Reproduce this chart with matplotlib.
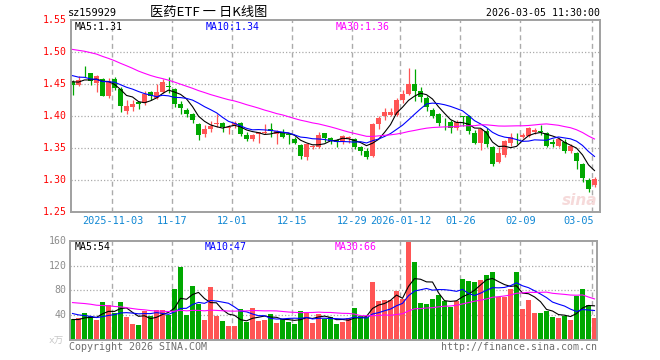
"""
Daily K-line chart for sz159929 (医药ETF), Sina finance style
"""
import numpy as np
import pandas as pd
import matplotlib

matplotlib.use("Agg")
import matplotlib.pyplot as plt

# ---- data ----
opens = [1.454, 1.449, 1.468, 1.467, 1.4525, 1.459, 1.432, 1.459, 1.443, 1.409,
         1.415, 1.422, 1.421, 1.438, 1.428, 1.4385, 1.448, 1.442, 1.419, 1.410,
         1.403, 1.388, 1.373, 1.380, 1.388, 1.3896, 1.381, 1.386, 1.390, 1.371,
         1.365, 1.372, 1.374, 1.380, 1.372, 1.3734, 1.372, 1.3646, 1.355, 1.337,
         1.352, 1.3526, 1.3734, 1.3667, 1.363, 1.362, 1.3665, 1.364, 1.3515, 1.346,
         1.338, 1.388, 1.4005, 1.402, 1.402, 1.4255, 1.435, 1.4505, 1.440, 1.428,
         1.410, 1.4036, 1.3895, 1.3917, 1.381, 1.400, 1.401, 1.3745, 1.3578, 1.3776,
         1.3526, 1.329, 1.3396, 1.3578, 1.368, 1.3672, 1.3693, 1.376, 1.3765, 1.3734,
         1.3604, 1.3536, 1.3604, 1.3463, 1.3432, 1.325, 1.3005, 1.2927]
highs = [1.456, 1.463, 1.479, 1.468, 1.464, 1.460, 1.460, 1.461, 1.445, 1.425,
         1.425, 1.423, 1.439, 1.439, 1.450, 1.458, 1.461, 1.444, 1.424, 1.413,
         1.405, 1.389, 1.386, 1.393, 1.403, 1.391, 1.386, 1.392, 1.391, 1.375,
         1.372, 1.376, 1.3875, 1.390, 1.379, 1.380, 1.373, 1.368, 1.357, 1.358,
         1.355, 1.375, 1.374, 1.368, 1.365, 1.371, 1.369, 1.366, 1.3536, 1.350,
         1.389, 1.400, 1.4125, 1.4125, 1.428, 1.441, 1.475, 1.4734, 1.445, 1.432,
         1.4125, 1.4057, 1.398, 1.395, 1.395, 1.401, 1.402, 1.379, 1.381, 1.381,
         1.3536, 1.3526, 1.363, 1.3745, 1.3745, 1.3745, 1.384, 1.381, 1.3865, 1.376,
         1.364, 1.3656, 1.364, 1.356, 1.345, 1.327, 1.303, 1.3057]
lows = [1.433, 1.447, 1.462, 1.449, 1.438, 1.431, 1.429, 1.441, 1.407, 1.403,
        1.408, 1.411, 1.417, 1.425, 1.427, 1.437, 1.437, 1.414, 1.403, 1.399,
        1.390, 1.363, 1.368, 1.376, 1.384, 1.376, 1.372, 1.381, 1.369, 1.362,
        1.362, 1.359, 1.372, 1.368, 1.357, 1.366, 1.356, 1.356, 1.334, 1.331,
        1.349, 1.350, 1.360, 1.356, 1.3526, 1.357, 1.358, 1.3484, 1.339, 1.3328,
        1.336, 1.380, 1.395, 1.400, 1.400, 1.421, 1.433, 1.4245, 1.423, 1.409,
        1.397, 1.385, 1.3786, 1.374, 1.3786, 1.385, 1.373, 1.356, 1.348, 1.3526,
        1.3224, 1.3276, 1.337, 1.3536, 1.3568, 1.3656, 1.367, 1.3724, 1.371, 1.3526,
        1.3515, 1.3515, 1.343, 1.343, 1.317, 1.298, 1.282, 1.289]
closes = [1.449, 1.457, 1.467, 1.455, 1.463, 1.432, 1.455, 1.444, 1.416, 1.416,
          1.420, 1.419, 1.435, 1.431, 1.4385, 1.454, 1.446, 1.420, 1.413, 1.403,
          1.394, 1.371, 1.380, 1.385, 1.389, 1.383, 1.383, 1.3895, 1.373, 1.365,
          1.370, 1.375, 1.375, 1.377, 1.377, 1.368, 1.371, 1.359, 1.3385, 1.356,
          1.353, 1.371, 1.3667, 1.3615, 1.3605, 1.369, 1.367, 1.3526, 1.346, 1.336,
          1.388, 1.397, 1.407, 1.407, 1.4255, 1.4344, 1.4505, 1.440, 1.430, 1.414,
          1.4005, 1.390, 1.389, 1.381, 1.3917, 1.399, 1.3776, 1.359, 1.3797, 1.357,
          1.3255, 1.343, 1.3614, 1.368, 1.367, 1.3708, 1.381, 1.3786, 1.376, 1.3536,
          1.357, 1.364, 1.3463, 1.3536, 1.3307, 1.304, 1.286, 1.3015]
volumes = [33.1, 35.7, 43.2, 38.4, 32, 61.3, 56, 42.7, 61.3, 37.3,
           25.6, 24, 46.9, 38.4, 48, 48, 41, 81.6, 117.3, 40,
           86.4, 58.1, 32, 84.8, 38.4, 30.9, 22.4, 22.4, 49.6, 29.3,
           51.2, 30.9, 32, 41.6, 27.2, 34.1, 29.3, 26.1, 46.9, 43.7,
           27.2, 41.6, 33.1, 36.3, 25.6, 28.8, 35.2, 51.2, 38.4, 36.3,
           92.8, 62.4, 64, 64, 78.9, 66.7, 158.4, 126.4, 59.2, 57.6,
           65.6, 72, 62.4, 53.3, 62.4, 97.6, 94.4, 92.8, 96, 104,
           108.8, 68.8, 68.8, 81.6, 108.8, 49.6, 64, 43.2, 43.2, 46.4,
           36.8, 35.2, 38.4, 32, 70.4, 81.6, 56, 35.2]

# closes / volumes before the visible window (estimated so the moving averages start right)
prior_close = [1.50, 1.51, 1.52, 1.53, 1.54, 1.55, 1.55, 1.54, 1.53, 1.54,
               1.55, 1.54, 1.53, 1.52, 1.52, 1.52, 1.51, 1.51, 1.50, 1.49,
               1.48, 1.47, 1.48, 1.47, 1.465, 1.46, 1.45, 1.455, 1.456]
prior_vol = [60, 65, 72, 80, 75, 70, 75, 80, 78, 68,
             62, 70, 75, 66, 60, 58, 64, 72, 68, 64,
             58, 55, 50, 52, 47, 36, 30, 34, 32]

tick_labels = ["2025-11-03", "11-17", "12-01", "12-15", "12-29",
               "2026-01-12", "01-26", "02-09", "03-05"]
tick_index = [7, 17, 27, 37, 47, 55, 65, 75, 87]

price_ticks = [1.55, 1.50, 1.45, 1.40, 1.35, 1.30, 1.25]
vol_ticks = [160, 120, 80, 40]

price_legend = ["MA5:1.31", "MA10:1.34", "MA30:1.36"]
vol_legend = ["MA5:54", "MA10:47", "MA30:66"]

# ---- styling ----
W, H = 660, 360
RED = "#ff5555"
GREEN = "#00a800"
GRID = "#ababab"
MONO = "DejaVu Sans Mono"
MA_COLORS = ["black", "#0000ff", "#ff00ff"]


def rect(x0, y0, x1, y1):
    """pixel box (top-left origin) -> figure fraction"""
    return [x0 / W, 1 - y1 / H, (x1 - x0) / W, (y1 - y0) / H]


def ftext(x, y, s, **kw):
    kw.setdefault("family", MONO)
    kw.setdefault("fontsize", 7.4)
    kw.setdefault("va", "center")
    fig.text(x / W, 1 - y / H, s, **kw)


def moving(prior, values, n):
    s = pd.Series(list(prior) + list(values))
    return s.rolling(n).mean().iloc[len(prior):].to_numpy()


def frame(axis):
    axis.set_xticks([])
    axis.set_yticks([])
    for sp in axis.spines.values():
        sp.set_color("#a0a0a0")
        sp.set_linewidth(1.4)


n = len(closes)
idx = np.arange(n)
o, h, l, c = map(np.array, (opens, highs, lows, closes))
colors = np.where(c >= o, RED, GREEN)

fig = plt.figure(figsize=(W / 100, H / 100), dpi=100)
fig.patch.set_facecolor("white")

# candle centre in pixels = 72.5 + 6 * index
ax = fig.add_axes(rect(70.5, 20.3, 600, 212.3))
ax.set_xlim((70.5 - 72.5) / 6, (600 - 72.5) / 6)
ax.set_ylim(1.25, 1.55)
frame(ax)

axv = fig.add_axes(rect(70, 240.7, 597, 340))
axv.set_xlim((70 - 72.5) / 6, (597 - 72.5) / 6)
axv.set_ylim(0, 160)
frame(axv)

# grid
for y in price_ticks[1:-1]:
    ax.axhline(y, color=GRID, lw=0.9, ls=(0, (1, 1.6)), zorder=0)
for y in vol_ticks[1:]:
    axv.axhline(y, color=GRID, lw=0.9, ls=(0, (1, 1.6)), zorder=0)
for t in tick_index:
    for a in (ax, axv):
        a.axvline(t - 0.35, color=GRID, lw=1.0, ls=(0, (3.6, 2.6)), zorder=0)

# candles
body = np.maximum(np.abs(c - o), 0.0011)
ax.vlines(idx, l, h, colors=colors, lw=0.9, zorder=2)
ax.bar(idx, body, bottom=np.minimum(o, c), width=0.83, color=colors, lw=0, zorder=2)

for n_ma, col in zip((5, 10, 30), MA_COLORS):
    ax.plot(idx, moving(prior_close, closes, n_ma), color=col, lw=0.8, zorder=3)

# volumes
axv.bar(idx, volumes, width=0.83, color=colors, lw=0, zorder=2)
for n_ma, col in zip((5, 10, 30), MA_COLORS):
    axv.plot(idx, moving(prior_vol, volumes, n_ma), color=col, lw=0.8, zorder=3)

# watermark
ax.text(0.995, 0.02, "sina", transform=ax.transAxes, ha="right", va="bottom",
        fontsize=11, style="italic", weight="bold", color="#f6dada", zorder=1)

# header
ftext(68, 13, "sz159929")
ftext(150, 12.5, "医药ETF 一 日K线图", family=["Noto Sans CJK SC", "DejaVu Sans"],
      fontsize=9.5)
ftext(600, 13, "2026-03-05 11:30:00", ha="right", fontsize=7.1)

# price axis labels
for p in price_ticks:
    y = 20.3 + (1.55 - p) / 0.05 * 32
    ftext(67, y, f"{p:.2f}", ha="right", color="red", fontsize=7.1)

for s, x, col in zip(price_legend, (75, 206, 336), MA_COLORS):
    ftext(x, 27, s, color=col, fontsize=7.1)
for s, x, col in zip(vol_legend, (75, 205, 335), MA_COLORS):
    ftext(x, 247, s, color=col, fontsize=7.1)

# date labels
for t, s in zip(tick_index, tick_labels):
    x = 72.5 + 6 * t - 2
    if t == tick_index[-1]:
        ftext(x + 2, 220.5, s, ha="right", color="#1188d4")
    else:
        ftext(x, 220.5, s, ha="center", color="#1188d4")

# volume axis labels
for v in vol_ticks:
    y = 340 - v / 160 * 99.3
    ftext(66.5, y, str(v), ha="right", color="#8c8c8c", fontsize=7.1)
ftext(64, 340, "x万", ha="right", color="#c8c8c8", fontsize=6.8,
      family=["DejaVu Sans Mono", "Noto Sans CJK SC"])

# footer
ftext(69, 347, "Copyright 2026 SINA.COM", color="#6e6e6e", fontsize=7.2)
ftext(597, 347, "http://finance.sina.com.cn", ha="right", color="#6e6e6e",
      fontsize=7.1)

fig.savefig("out.png", dpi=100, facecolor="white")
